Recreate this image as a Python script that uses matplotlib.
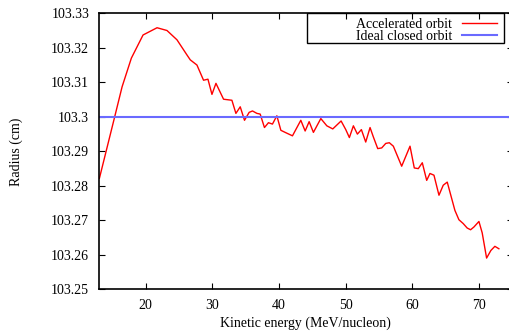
import matplotlib
matplotlib.use("Agg")
import matplotlib.pyplot as plt
from matplotlib.patches import Rectangle

plt.rcParams['font.family'] = ['Liberation Serif', 'DejaVu Serif']
plt.rcParams['font.size'] = 10

# --- data ---
energy = [13.07, 15.36, 16.47, 17.86, 19.61, 21.71, 23.20, 24.70, 26.20, 26.69,
          27.69, 28.68, 29.34, 29.94, 30.54, 31.68, 32.93, 33.53, 34.18, 34.82,
          35.52, 36.02, 36.68, 37.17, 37.81, 38.41, 39.01, 39.67, 40.27, 41.02,
          42.01, 43.26, 43.91, 44.51, 45.15, 46.26, 47.16, 48.05, 49.30, 50.00,
          50.54, 51.14, 51.74, 52.34, 52.99, 53.64, 54.13, 54.79, 55.39, 55.99,
          56.53, 57.13, 58.38, 59.63, 60.27, 60.87, 61.47, 62.13, 62.62, 63.22,
          63.97, 64.61, 65.21, 66.36, 66.96, 67.60, 68.20, 68.71, 69.21, 69.96,
          70.45, 71.11, 71.75, 72.35, 72.95]
radius = [103.2822, 103.3000, 103.3087, 103.3170, 103.3237, 103.3258, 103.3250,
          103.3223, 103.3179, 103.3165, 103.3150, 103.3106, 103.3109, 103.3065,
          103.3097, 103.3051, 103.3048, 103.3010, 103.3029, 103.2990, 103.3013,
          103.3017, 103.3010, 103.3008, 103.2969, 103.2983, 103.2979, 103.3003,
          103.2961, 103.2954, 103.2945, 103.2990, 103.2959, 103.2986, 103.2955,
          103.2995, 103.2974, 103.2965, 103.2988, 103.2963, 103.2940, 103.2974,
          103.2950, 103.2963, 103.2927, 103.2969, 103.2942, 103.2908, 103.2910,
          103.2923, 103.2925, 103.2915, 103.2857, 103.2915, 103.2852, 103.2850,
          103.2867, 103.2816, 103.2836, 103.2831, 103.2773, 103.2802, 103.2811,
          103.2729, 103.2702, 103.2691, 103.2678, 103.2673, 103.2681, 103.2697,
          103.2664, 103.2591, 103.2613, 103.2625, 103.2618]
ideal_radius = 103.3
x_ticks = [20, 30, 40, 50, 60, 70]
y_ticks = [103.25, 103.26, 103.27, 103.28, 103.29, 103.30, 103.31, 103.32, 103.33]
y_tick_labels = ['103.25', '103.26', '103.27', '103.28', '103.29', '103.3',
                 '103.31', '103.32', '103.33']

fig = plt.figure(figsize=(5.10, 3.31), dpi=100)
ax = fig.add_axes([0.194, 0.1254, 0.811, 0.8346])

ax.plot(energy, radius, color='#ff0000', lw=1.0, label='Accelerated orbit')
ax.axhline(ideal_radius, color='#6a6aff', lw=1.5, label='Ideal closed orbit')

ax.set_xlim(13, 75)
ax.set_ylim(103.25, 103.33)
ax.set_xticks(x_ticks)
ax.set_yticks(y_ticks)
ax.set_yticklabels(y_tick_labels)
ax.tick_params(direction='in', length=4, width=0.8, top=True, right=True, pad=7)
for s in ax.spines.values():
    s.set_linewidth(1.2)

ax.set_xlabel('Kinetic energy (MeV/nucleon)', labelpad=3)
ax.set_ylabel('Radius (cm)', labelpad=20)

# gnuplot-like key: text right-aligned, sample to the right, square box
ax.add_patch(Rectangle((0.502, 0.8936), 0.477, 0.1064, transform=ax.transAxes,
                       fill=False, edgecolor='black', lw=1.0, zorder=5))
ax.legend(loc='upper right', bbox_to_anchor=(0.9616, 0.984), frameon=False,
          markerfirst=False, borderpad=0, borderaxespad=0, handlelength=2.5,
          handletextpad=0.7, labelspacing=-0.05, fontsize=10)

fig.savefig('out.png', dpi=100)
